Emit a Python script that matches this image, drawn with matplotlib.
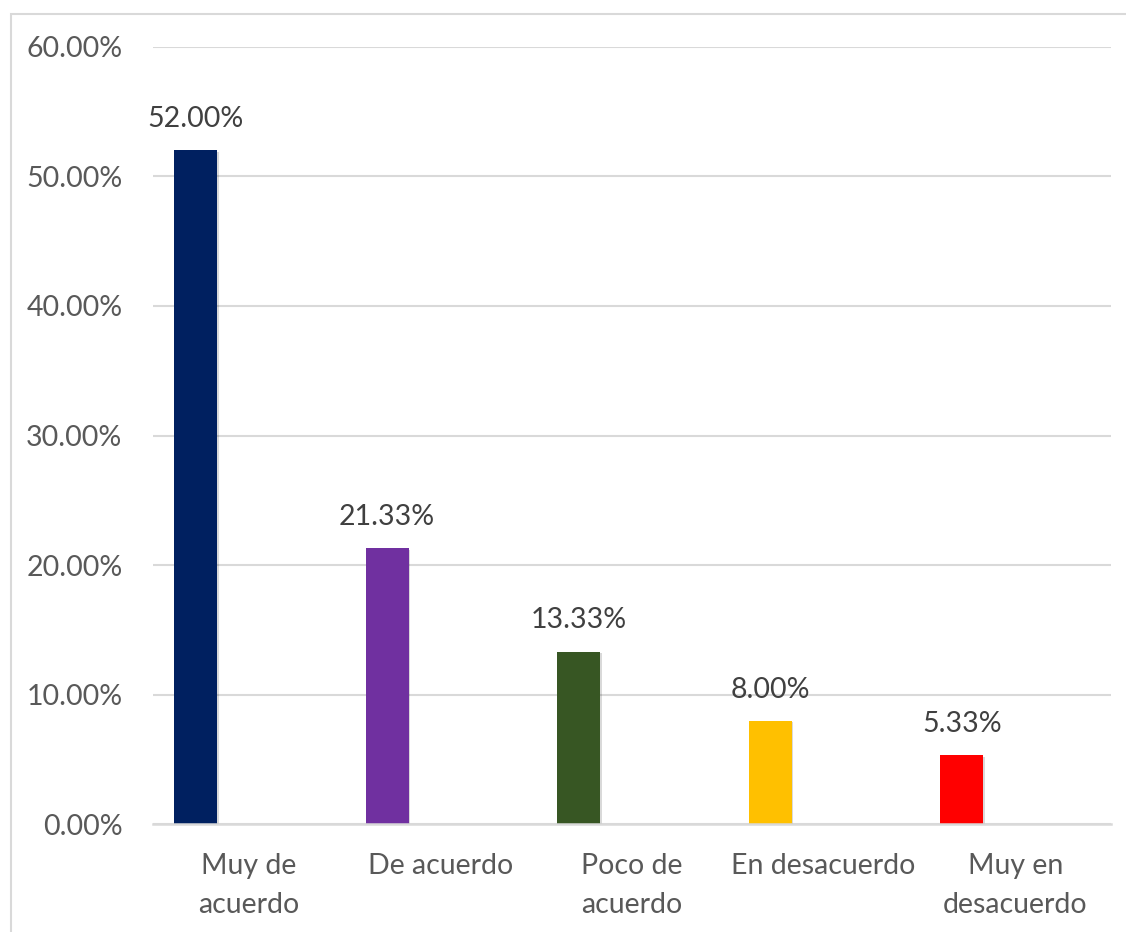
import matplotlib
matplotlib.use("Agg")
import matplotlib.pyplot as plt
import numpy as np
from matplotlib.patches import Rectangle
import matplotlib.patheffects as pe

categories = ["Muy de\nacuerdo", "De acuerdo", "Poco de\nacuerdo", "En desacuerdo", "Muy en\ndesacuerdo"]
values = [52.00, 21.33, 13.33, 8.00, 5.33]
labels = ["52.00%", "21.33%", "13.33%", "8.00%", "5.33%"]
colors = ["#002060", "#7030A0", "#375623", "#FFC000", "#FF0000"]
yticks = [0, 10, 20, 30, 40, 50, 60]
ytick_labels = ["0.00%", "10.00%", "20.00%", "30.00%", "40.00%", "50.00%", "60.00%"]

plt.rcParams['font.family'] = ['Lato', 'DejaVu Sans']
text_color = "#595959"
grid_color = "#D9D9D9"
fs = 20.5

fig = plt.figure(figsize=(11.26, 9.32), dpi=100)
ax = fig.add_axes([153/1126, 1-824.3/932, (1111-153)/1126, (824.3-46.7)/932])

x = np.arange(len(categories))
offset = -0.278
width = 0.224
bars = ax.bar(x + offset, values, width=width, color=colors, zorder=3)
for b in bars:
    b.set_path_effects([pe.SimplePatchShadow(offset=(1.2, -1.2), shadow_rgbFace="#000000", alpha=0.15), pe.Normal()])

for xi, v, lab in zip(x, values, labels):
    ax.annotate(lab, (xi + offset, v), xytext=(0, 13), textcoords="offset points",
                ha="center", va="bottom", fontsize=fs, color="#404040")

ax.set_xlim(-0.5, len(categories) - 0.5)
ax.set_ylim(0, 60)
ax.set_yticks(yticks)
ax.set_yticklabels(ytick_labels)
ax.set_xticks(x)
ax.set_xticklabels(categories, linespacing=1.6)
ax.tick_params(axis="y", length=0, pad=22, labelsize=fs, labelcolor=text_color)
ax.tick_params(axis="x", length=0, pad=21, labelsize=fs, labelcolor=text_color)
ax.yaxis.grid(True, color=grid_color, linewidth=1.5, zorder=0)
for s in ["top", "right", "left"]:
    ax.spines[s].set_visible(False)
ax.spines["bottom"].set_color(grid_color)
ax.spines["bottom"].set_linewidth(1.8)
ax.spines["bottom"].set_zorder(4)

# chart border
border = Rectangle((10.5/1126, -0.05), 1.2, 1 - 13.5/932 + 0.05, transform=fig.transFigure,
                   fill=False, edgecolor=grid_color, linewidth=1.5, clip_on=False)
fig.patches.append(border)

fig.savefig("out.png", dpi=100)
